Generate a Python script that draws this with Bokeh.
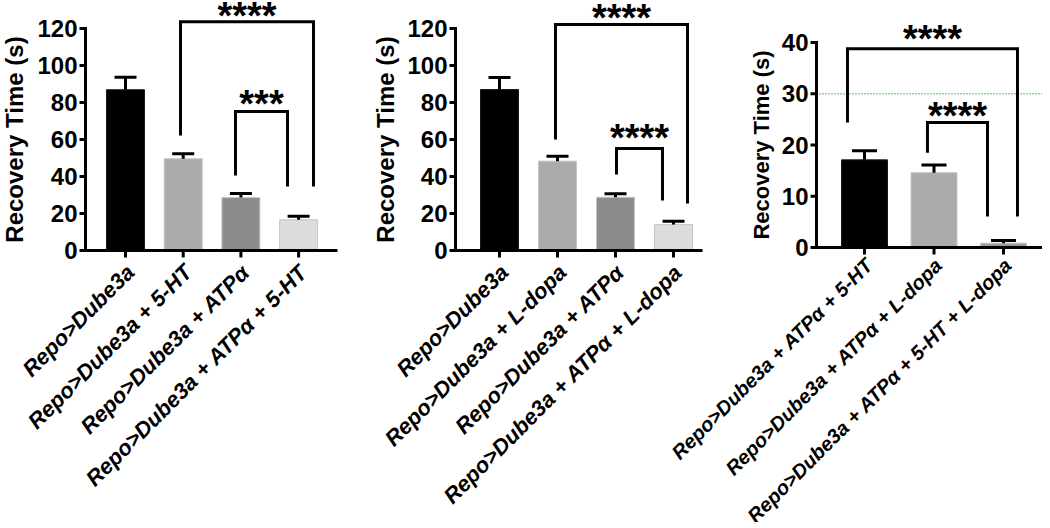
import math
from bokeh.plotting import figure
from bokeh.models import Range1d
from bokeh.embed import file_html
from bokeh.resources import INLINE
from bokeh.core.properties import value

FONT = "Liberation Sans"

# ---------------- data ----------------
# Panel A (5-HT)
a_labels = ["Repo>Dube3a", "Repo>Dube3a + 5-HT", "Repo>Dube3a + ATPα", "Repo>Dube3a + ATPα + 5-HT"]
a_means = [86.9, 49.6, 28.6, 16.6]
a_sem = [6.8, 2.7, 2.2, 1.9]
a_colors = ["#000000", "#ababab", "#8c8c8c", "#dcdcdc"]
a_ticks = [0, 20, 40, 60, 80, 100, 120]
a_stars = ["****", "***"]
a_br_top = [123.6, 75.1]
a_br_left_end = [62.2, 40.5]
a_br_right_end = [34.6, 34.6]
a_star_y = [130.0, 82.6]

# Panel B (L-dopa)
b_labels = ["Repo>Dube3a", "Repo>Dube3a + L-dopa", "Repo>Dube3a + ATPα", "Repo>Dube3a + ATPα + L-dopa"]
b_means = [87.0, 48.3, 28.8, 14.0]
b_sem = [6.5, 2.7, 1.9, 1.8]
b_colors = ["#000000", "#ababab", "#8c8c8c", "#dcdcdc"]
b_ticks = [0, 20, 40, 60, 80, 100, 120]
b_stars = ["****", "****"]
b_br_top = [122.2, 55.1]
b_br_left_end = [60.0, 41.1]
b_br_right_end = [25.4, 27.0]
b_star_y = [129.0, 64.0]

# Panel C (combined)
c_labels = ["Repo>Dube3a + ATPα + 5-HT", "Repo>Dube3a + ATPα + L-dopa", "Repo>Dube3a + ATPα + 5-HT + L-dopa"]
c_means = [17.1, 14.6, 0.85]
c_sem = [1.8, 1.5, 0.5]
c_colors = ["#000000", "#ababab", "#9b9b9b"]
c_ticks = [0, 10, 20, 30, 40]
c_threshold = 30
c_stars = ["****", "****"]
c_br_top = [38.8, 24.4]
c_br_left_end = [24.4, 18.5]
c_br_right_end = [6.05, 6.05]
c_star_y = [41.8, 26.9]

Y_LABEL = "Recovery Time (s)"

# ---------------- layout (screen px) ----------------
W, H = 1042, 522
AB_ZERO, AB_SCALE = 250, 1.85      # panels A/B: canvas y of value 0, px per unit
C_ZERO, C_SCALE = 247, 5.125       # panel C

p = figure(width=W, height=H, output_backend="svg", toolbar_location=None,
           x_axis_type=None, y_axis_type=None,
           x_range=Range1d(0, W),
           y_range=Range1d(-(H - AB_ZERO) / AB_SCALE, AB_ZERO / AB_SCALE),
           min_border=0, min_border_left=0, min_border_right=0,
           min_border_top=0, min_border_bottom=0)
p.extra_y_ranges = {"c": Range1d(-(H - C_ZERO) / C_SCALE, C_ZERO / C_SCALE)}
p.outline_line_color = None
p.background_fill_color = "white"
p.border_fill_color = "white"


def draw_panel(labels, means, sems, colors, ticks, stars, br_top, br_left_end, br_right_end,
               star_y, br_slots, axis_x, c0, step, x_end, bar_w, cap_w, ylab_x,
               scale, rng, tick_fs, ylab_fs, lab_fs, star_fs, lab_dy, threshold=None):
    n = len(means)
    xs = [c0 + i * step for i in range(n)]
    kw = dict(y_range_name=rng)

    # bars
    line_cols = ["#1a1a1a" if c == "#000000" else "#c6c6c6" for c in colors]
    p.vbar(x=xs, top=means, bottom=0, width=bar_w, fill_color=colors,
           line_color=line_cols, line_width=1, **kw)

    # error bars (upper only)
    tops = [m + s for m, s in zip(means, sems)]
    p.segment(x0=xs, y0=means, x1=xs, y1=tops, line_color="black", line_width=3, **kw)
    p.segment(x0=[x - cap_w / 2 for x in xs], y0=tops, x1=[x + cap_w / 2 for x in xs], y1=tops,
              line_color="black", line_width=3, **kw)

    # reference line
    if threshold is not None:
        p.segment(x0=[axis_x], y0=[threshold], x1=[x_end], y1=[threshold],
                  line_color="#22a022", line_dash="1 2", line_width=1.6, **kw)

    # y axis
    p.segment(x0=[axis_x], y0=[ticks[0]], x1=[axis_x], y1=[ticks[-1]],
              line_color="black", line_width=3, line_cap="square", **kw)
    p.segment(x0=[axis_x - 6] * len(ticks), y0=ticks, x1=[axis_x] * len(ticks), y1=ticks,
              line_color="black", line_width=3, **kw)
    p.text(x=[axis_x] * len(ticks), y=ticks, text=[str(t) for t in ticks],
           x_offset=-8, text_align="right", text_baseline="middle",
           text_font=value(FONT), text_font_style="bold", text_font_size=tick_fs,
           text_color="black", **kw)
    p.text(x=[ylab_x], y=[(ticks[0] + ticks[-1]) / 2], text=[Y_LABEL], angle=math.pi / 2,
           text_align="center", text_baseline="middle",
           text_font=value(FONT), text_font_style="bold", text_font_size=ylab_fs,
           text_color="black", **kw)

    # x axis
    p.segment(x0=[axis_x - 1.5], y0=[0], x1=[x_end], y1=[0],
              line_color="black", line_width=3, **kw)
    p.segment(x0=xs, y0=[0] * n, x1=xs, y1=[-7 / scale] * n,
              line_color="black", line_width=3, **kw)
    p.text(x=xs, y=[0] * n, text=labels, angle=math.pi / 4,
           x_offset=5, y_offset=lab_dy, text_align="right", text_baseline="middle",
           text_font=value(FONT), text_font_style="bold italic", text_font_size=lab_fs,
           text_color="black", **kw)

    # significance brackets
    lx = [c0 + (s - 1) * step for s, _ in br_slots]
    rx = [c0 + (s - 1) * step for _, s in br_slots]
    bx = [[a, a, b, b] for a, b in zip(lx, rx)]
    by = [[le, t, t, re] for le, t, re in zip(br_left_end, br_top, br_right_end)]
    p.multi_line(xs=bx, ys=by, line_color="black", line_width=3, line_join="miter", **kw)
    p.text(x=[(a + b) / 2 for a, b in zip(lx, rx)], y=star_y, text=stars,
           y_offset=6, text_align="center", text_baseline="alphabetic",
           text_font=value(FONT), text_font_style="bold", text_font_size=star_fs,
           text_color="black", **kw)


draw_panel(a_labels, a_means, a_sem, a_colors, a_ticks, a_stars, a_br_top, a_br_left_end,
           a_br_right_end, a_star_y, br_slots=[(1.953, 4.258), (2.906, 3.808)],
           axis_x=85, c0=125, step=57.7, x_end=337, bar_w=38, cap_w=22, ylab_x=14,
           scale=AB_SCALE, rng="default", tick_fs="24px", ylab_fs="24px", lab_fs="22px",
           star_fs="38px", lab_dy=18)

draw_panel(b_labels, b_means, b_sem, b_colors, b_ticks, b_stars, b_br_top, b_br_left_end,
           b_br_right_end, b_star_y, br_slots=[(1.966, 4.241), (3.017, 3.81)],
           axis_x=455, c0=499, step=58, x_end=702, bar_w=38, cap_w=22, ylab_x=385,
           scale=AB_SCALE, rng="default", tick_fs="24px", ylab_fs="24px", lab_fs="22px",
           star_fs="38px", lab_dy=18)

draw_panel(c_labels, c_means, c_sem, c_colors, c_ticks, c_stars, c_br_top, c_br_left_end,
           c_br_right_end, c_star_y, br_slots=[(0.755, 3.201), (1.906, 2.770)],
           axis_x=816, c0=864, step=69.5, x_end=W, bar_w=46, cap_w=25, ylab_x=761,
           scale=C_SCALE, rng="c", tick_fs="24px", ylab_fs="22px", lab_fs="20px",
           star_fs="38px", lab_dy=14, threshold=c_threshold)

open("out.html", "w").write(file_html(p, INLINE))
